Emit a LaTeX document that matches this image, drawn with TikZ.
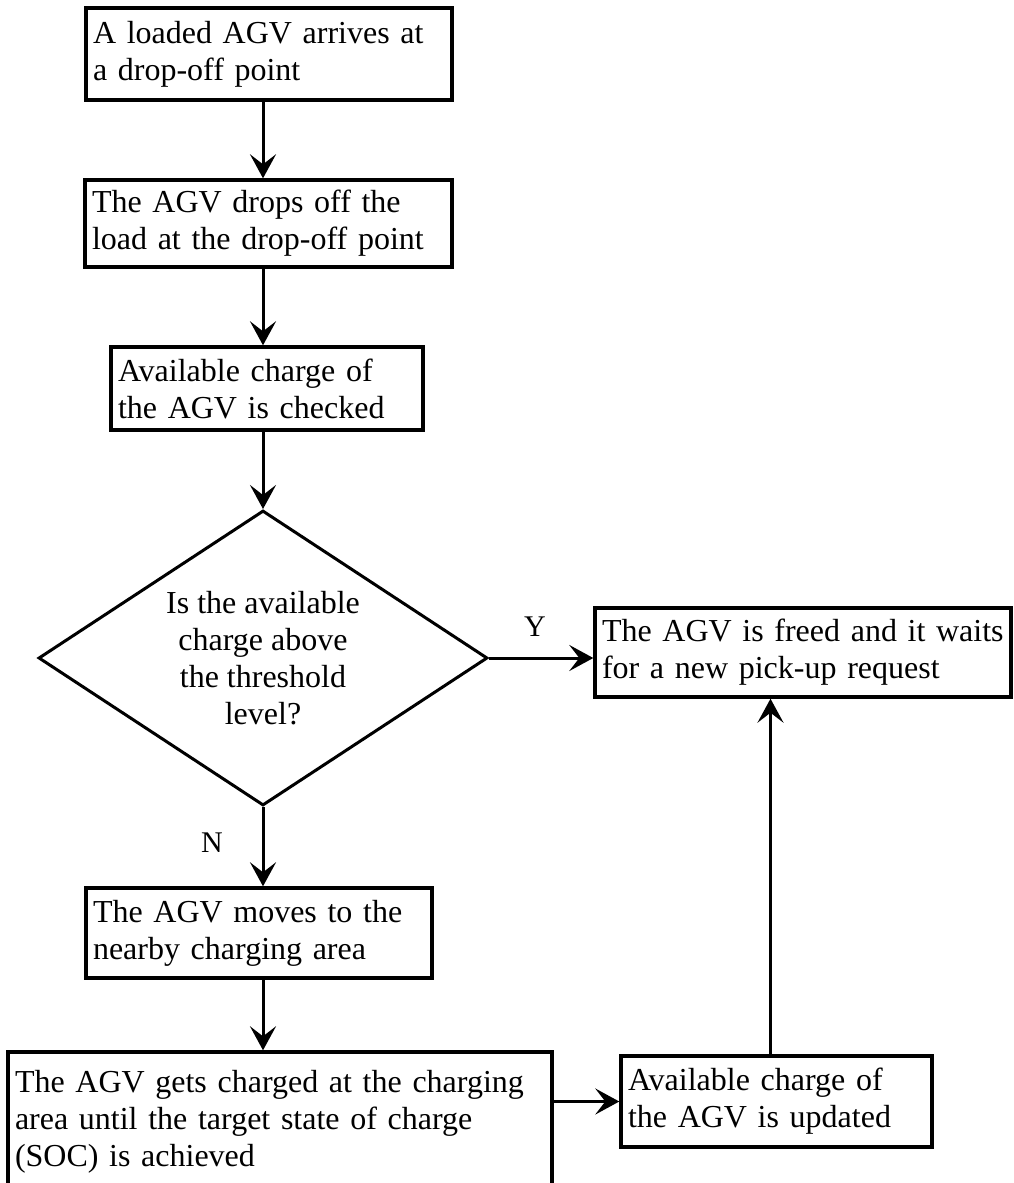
\documentclass[tikz,border=0pt]{standalone}
\usepackage{fontspec}
\setmainfont{Liberation Serif}
\usetikzlibrary{shapes.geometric,arrows.meta}

\tikzset{
  procbox/.style={draw=black, line width=3.4pt, rectangle, align=left,
    inner xsep=7pt, inner ysep=0pt, font=\fontsize{32}{37}\selectfont},
  decision/.style={draw=black, line width=3pt, diamond, aspect=1.5,
    align=center, inner sep=0pt, font=\fontsize{32}{37}\selectfont},
  flowarrow/.style={line width=3pt, -{Stealth[length=24pt,width=26pt,inset=10pt]}},
  branchlabel/.style={font=\fontsize{30}{36}\selectfont}
}

\begin{document}
\begin{tikzpicture}[x=1pt,y=-1pt]
    % Fix the page size
    \useasboundingbox (0,0) rectangle (1013,1183);

    % Main column of steps
    \node[procbox, minimum height=92pt, text width=352pt] (arrive) at (269,54)
        {A loaded AGV arrives at\\a drop-off point};
    \node[procbox, minimum height=87pt, text width=353pt] (drop) at (268.5,223.5)
        {The AGV drops off the\\load at the drop-off point};
    \node[procbox, minimum height=83pt, text width=298pt] (check) at (267,388.5)
        {Available charge of\\the AGV is checked};

    % Decision
    \node[decision, minimum width=449pt, minimum height=295pt] (above) at (263,658)
        {Is the available\\charge above\\the threshold\\level?};

    % Yes branch
    \node[procbox, minimum height=89pt, text width=402pt] (freed) at (803,652.5)
        {The AGV is freed and it waits\\for a new pick-up request};

    % No branch
    \node[procbox, minimum height=90pt, text width=332pt] (move) at (259,933)
        {The AGV moves to the\\nearby charging area};
    \node[procbox, minimum height=140pt, text width=530pt] (charge) at (280,1122)
        {The AGV gets charged at the charging\\area until the target state of charge\\(SOC) is achieved};
    \node[procbox, minimum height=91pt, text width=297pt] (update) at (776.5,1101.5)
        {Available charge of\\the AGV is updated};

    % Draw the connectors
    \draw[flowarrow] (arrive.south -| above.north) -- (drop.north -| above.north);
    \draw[flowarrow] (drop.south -| above.north) -- (check.north -| above.north);
    \draw[flowarrow] (check.south -| above.north) -- (above.north);
    \draw[flowarrow] (above.east) -- (above.east -| freed.west);
    \draw[flowarrow] (above.south) -- (move.north -| above.south);
    \draw[flowarrow] (move.south -| above.south) -- (charge.north -| above.south);
    \draw[flowarrow] (charge.east |- update.west) -- (update.west);
    \draw[flowarrow] ([xshift=-6pt]update.north) -- ([xshift=-6pt]update.north |- freed.south);

    % Branch labels
    \node[branchlabel] (yes) at (535,627) {Y};
    \node[branchlabel] (no) at (212,843) {N};

\end{tikzpicture}
\end{document}
